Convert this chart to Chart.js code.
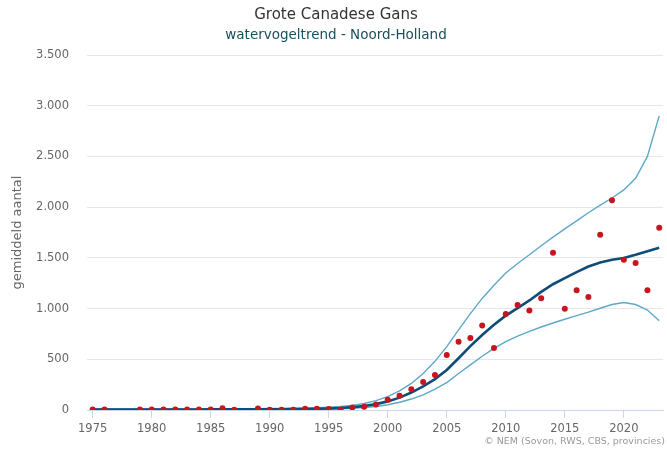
<!DOCTYPE html>
<html lang="nl">
<head>
<meta charset="UTF-8">
<title>Grote Canadese Gans</title>
<script src="https://cdn.jsdelivr.net/npm/chart.js"></script>
<style>
  body { margin: 0; background: #fff; }
</style>
</head>
<body>
<canvas id="trend" width="667" height="450"></canvas>
<script>
// jaren 1975 t/m 2023
var years = [1975, 1976, 1977, 1978, 1979, 1980, 1981, 1982, 1983, 1984,
             1985, 1986, 1987, 1988, 1989, 1990, 1991, 1992, 1993, 1994,
             1995, 1996, 1997, 1998, 1999, 2000, 2001, 2002, 2003, 2004,
             2005, 2006, 2007, 2008, 2009, 2010, 2011, 2012, 2013, 2014,
             2015, 2016, 2017, 2018, 2019, 2020, 2021, 2022, 2023];

// getelde gemiddelden (null = geen telling)
var counted = [5, 5, null, null, 5, 5, 5, 5, 5, 5,
               5, 18, 3, null, 15, 3, 2, 3, 12, 12,
               10, 5, 25, 32, 55, 100, 140, 204, 275, 345,
               542, 674, 710, 832, 612, 947, 1035, 980, 1101, 1551,
               999, 1180, 1114, 1729, 2068, 1482, 1450, 1180, 1798];

// trendlijn
var trend = [4, 4, 4, 4, 4, 5, 5, 5, 5, 5,
             6, 6, 6, 6, 7, 7, 8, 9, 10, 12,
             15, 20, 28, 40, 58, 85, 122, 172, 232, 305,
             395, 510, 630, 740, 840, 930, 1005, 1080, 1165, 1240,
             1300, 1360, 1415, 1455, 1482, 1498, 1530, 1565, 1600];

// bovengrens en ondergrens betrouwbaarheidsinterval
var upper = [10, 10, 10, 10, 10, 10, 10, 11, 11, 11,
             12, 12, 13, 13, 14, 15, 16, 18, 20, 23,
             28, 35, 46, 64, 92, 132, 188, 262, 360, 480,
             625, 790, 950, 1100, 1230, 1350, 1445, 1530, 1620, 1705,
             1785, 1865, 1945, 2020, 2090, 2170, 2285, 2500, 2900];

var lower = [1, 1, 1, 1, 1, 1, 2, 2, 2, 2,
             2, 2, 2, 3, 3, 3, 3, 4, 5, 6,
             8, 11, 16, 24, 35, 52, 76, 108, 150, 205,
             270, 360, 445, 530, 608, 675, 728, 775, 818, 858,
             895, 930, 965, 1003, 1040, 1060, 1040, 985, 880];

var xTicks = [1975, 1980, 1985, 1990, 1995, 2000, 2005, 2010, 2015, 2020];
var yTicks = [0, 500, 1000, 1500, 2000, 2500, 3000, 3500];

function pts(arr) {
    return years.map(function (y, i) { return { x: y, y: arr[i] }; });
}

function dotted(v) {
    return String(v).replace(/\B(?=(\d{3})+(?!\d))/g, '.');
}

// titel, ondertitel en bronvermelding
var textPlugin = {
    id: 'texts',
    afterDraw: function (chart) {
        var c = chart.ctx;
        c.save();
        c.textAlign = 'center';
        c.textBaseline = 'middle';
        c.fillStyle = '#333333';
        c.font = '15px "DejaVu Sans", sans-serif';
        c.fillText('Grote Canadese Gans', 336, 15);
        c.fillStyle = '#1b4f5f';
        c.font = '13.5px "DejaVu Sans", sans-serif';
        c.fillText('watervogeltrend - Noord-Holland', 336, 35);
        c.textAlign = 'right';
        c.fillStyle = '#999999';
        c.font = '9.5px "DejaVu Sans", sans-serif';
        c.fillText('\u00A9 NEM (Sovon, RWS, CBS, provincies)', 665, 442);
        c.restore();
    }
};

var chart = new Chart(document.getElementById('trend').getContext('2d'), {
    type: 'line',
    data: {
        datasets: [
            {
                label: 'geteld',
                data: pts(counted),
                showLine: false,
                pointRadius: 3,
                pointBorderWidth: 0,
                pointBackgroundColor: '#c8141e',
                pointBorderColor: '#c8141e'
            },
            {
                label: 'trend',
                data: pts(trend),
                borderColor: '#0f4c78',
                borderWidth: 2.6,
                pointRadius: 0,
                tension: 0
            },
            {
                label: 'bovengrens',
                data: pts(upper),
                borderColor: '#5ea8c8',
                borderWidth: 1.4,
                pointRadius: 0,
                tension: 0
            },
            {
                label: 'ondergrens',
                data: pts(lower),
                borderColor: '#5ea8c8',
                borderWidth: 1.4,
                pointRadius: 0,
                tension: 0
            }
        ]
    },
    options: {
        responsive: false,
        animation: false,
        layout: { padding: { top: 55, right: 1, left: 0, bottom: 0 } },
        plugins: {
            legend: { display: false },
            tooltip: { enabled: false }
        },
        scales: {
            x: {
                type: 'linear',
                min: 1974.52,
                max: 2023.32,
                afterBuildTicks: function (scale) {
                    scale.ticks = xTicks.map(function (v) { return { value: v }; });
                },
                afterFit: function (scale) { scale.height = 40; },
                grid: {
                    drawOnChartArea: false,
                    drawTicks: true,
                    tickLength: 8,
                    color: '#ccd6eb'
                },
                border: { display: true, color: '#ccd6eb' },
                ticks: {
                    padding: 4,
                    color: '#666666',
                    maxRotation: 0,
                    font: { family: '"DejaVu Sans", sans-serif', size: 11.5 },
                    callback: function (v) { return String(v); }
                }
            },
            y: {
                min: 0,
                max: 3500,
                afterBuildTicks: function (scale) {
                    scale.ticks = yTicks.map(function (v) { return { value: v }; });
                },
                afterFit: function (scale) { scale.width = 87; },
                grid: { color: '#e6e6e6', drawTicks: false },
                border: { display: false },
                ticks: {
                    padding: 18,
                    color: '#666666',
                    font: { family: '"DejaVu Sans", sans-serif', size: 11.5 },
                    callback: function (v) { return dotted(v); }
                },
                title: {
                    display: true,
                    text: 'gemiddeld aantal',
                    color: '#666666',
                    padding: { top: 10, bottom: 0 },
                    font: { family: '"DejaVu Sans", sans-serif', size: 13 }
                }
            }
        }
    },
    plugins: [textPlugin]
});
</script>
</body>
</html>
